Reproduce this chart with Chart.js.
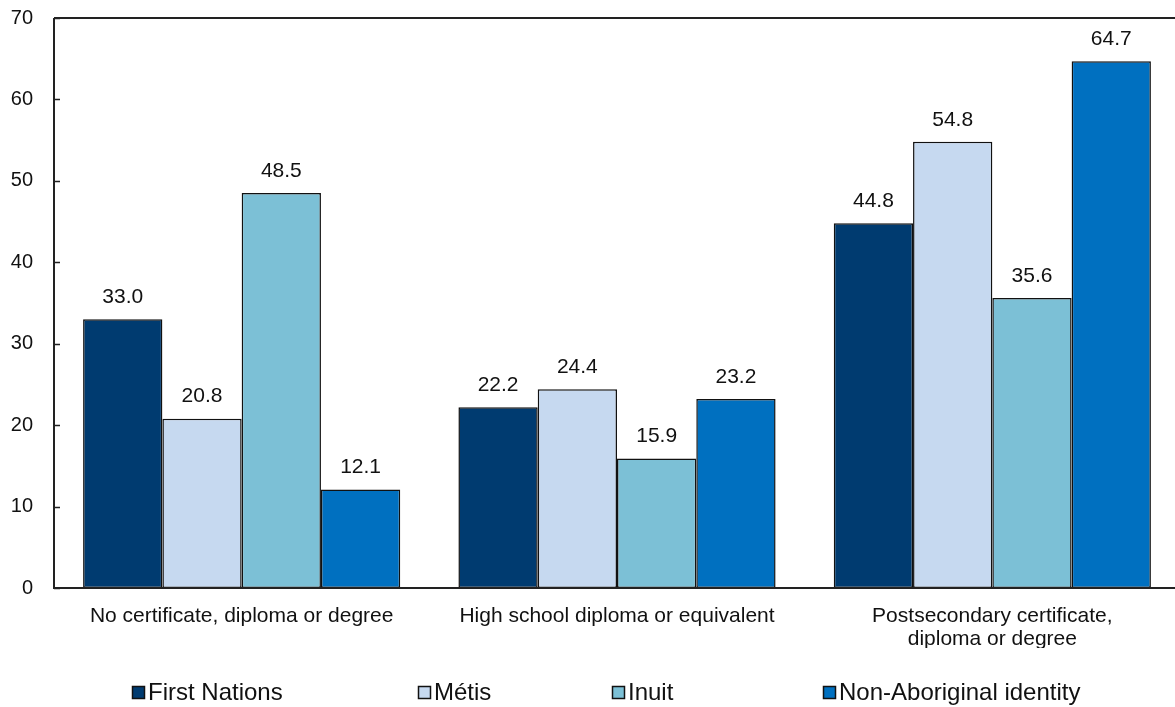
<!DOCTYPE html>
<html>
<head>
<meta charset="utf-8">
<title>Highest level of educational attainment by Aboriginal identity</title>
<script src="https://cdn.jsdelivr.net/npm/chart.js@4/dist/chart.umd.min.js"></script>
<style>
  html, body { margin: 0; padding: 0; background: #fff; overflow: hidden; }
  #wrap { position: relative; width: 1180px; height: 707px; }
</style>
</head>
<body>
<div id="wrap"><canvas id="chart"></canvas></div>
<script>
// Categories (education level)
const categories = [
  'No certificate, diploma or degree',
  'High school diploma or equivalent',
  ['Postsecondary certificate,', 'diploma or degree']
];

// Series values (percent)
const firstNations  = [33.0, 22.2, 44.8];
const metis         = [20.8, 24.4, 54.8];
const inuit         = [48.5, 15.9, 35.6];
const nonAboriginal = [12.1, 23.2, 64.7];

const seriesNames  = ['First Nations', 'Métis', 'Inuit', 'Non-Aboriginal identity'];
const seriesColors = ['#003b70', '#c6d9f0', '#7cc0d6', '#0070c0'];

const yTicks = [0, 10, 20, 30, 40, 50, 60, 70];

const FONT = '"Liberation Sans", Arial, sans-serif';
const TEXT = '#111';

// Frame, inward tick marks, value labels and legend
const decorations = {
  id: 'decorations',
  afterDatasetsDraw(chart) {
    const { ctx, chartArea: a, scales: { y } } = chart;
    ctx.save();
    ctx.strokeStyle = '#222';
    ctx.lineWidth = 2;
    ctx.beginPath();
    ctx.moveTo(a.left, a.top); ctx.lineTo(a.right + 5, a.top);
    ctx.moveTo(a.left, a.top); ctx.lineTo(a.left, a.bottom);
    ctx.moveTo(a.left - 1, a.bottom); ctx.lineTo(a.right + 5, a.bottom);
    ctx.stroke();
    ctx.lineWidth = 1.5;
    ctx.beginPath();
    yTicks.forEach(v => {
      const py = Math.round(y.getPixelForValue(v)) + 0.5;
      ctx.moveTo(a.left, py); ctx.lineTo(a.left + 6, py);
    });
    ctx.stroke();

    // value labels above bars
    ctx.fillStyle = TEXT;
    ctx.font = '21px ' + FONT;
    ctx.textAlign = 'center';
    ctx.textBaseline = 'middle';
    chart.data.datasets.forEach((ds, di) => {
      chart.getDatasetMeta(di).data.forEach((bar, i) => {
        ctx.fillText(ds.data[i].toFixed(1), bar.x, bar.y - 22);
      });
    });

    // legend
    const legendX = [132, 418, 612, 823];
    const ly = 693;
    ctx.textAlign = 'left';
    ctx.font = '24px ' + FONT;
    chart.data.datasets.forEach((ds, di) => {
      const x = legendX[di];
      ctx.fillStyle = ds.backgroundColor;
      ctx.fillRect(x, ly - 7, 13, 13);
      ctx.strokeStyle = '#111';
      ctx.lineWidth = 1.5;
      ctx.strokeRect(x + 0.5, ly - 6.5, 12, 12);
      ctx.fillStyle = TEXT;
      ctx.fillText(ds.label, x + 16, ly);
    });
    ctx.restore();
  }
};

new Chart(document.getElementById('chart'), {
  type: 'bar',
  data: {
    labels: categories,
    datasets: [firstNations, metis, inuit, nonAboriginal].map((vals, i) => ({
      label: seriesNames[i],
      data: vals,
      backgroundColor: seriesColors[i],
      borderColor: '#111',
      borderWidth: 1.5,
      borderSkipped: false,
      categoryPercentage: 0.845,
      barPercentage: 1.0
    }))
  },
  options: {
    responsive: true,
    maintainAspectRatio: false,
    animation: false,
    devicePixelRatio: 1,
    layout: { padding: { top: 18, right: 0, bottom: 59, left: 0 } },
    plugins: { legend: { display: false }, tooltip: { enabled: false } },
    scales: {
      x: {
        grid: { display: false, drawTicks: false },
        border: { display: false },
        ticks: {
          color: TEXT,
          font: { family: FONT, size: 21, lineHeight: 1.1 },
          padding: 17,
          maxRotation: 0,
          autoSkip: false
        },
        afterFit(scale) { scale.height = 60; scale.paddingLeft = 0; scale.paddingRight = 0; }
      },
      y: {
        min: 0,
        max: 70,
        grid: { display: false, drawTicks: false },
        border: { display: false },
        afterBuildTicks(scale) { scale.ticks = yTicks.map(v => ({ value: v })); },
        ticks: {
          color: TEXT,
          font: { family: FONT, size: 20 },
          padding: 21
        },
        afterFit(scale) { scale.width = 54; scale.paddingTop = 0; scale.paddingBottom = 0; }
      }
    }
  },
  plugins: [decorations]
});
</script>
</body>
</html>
